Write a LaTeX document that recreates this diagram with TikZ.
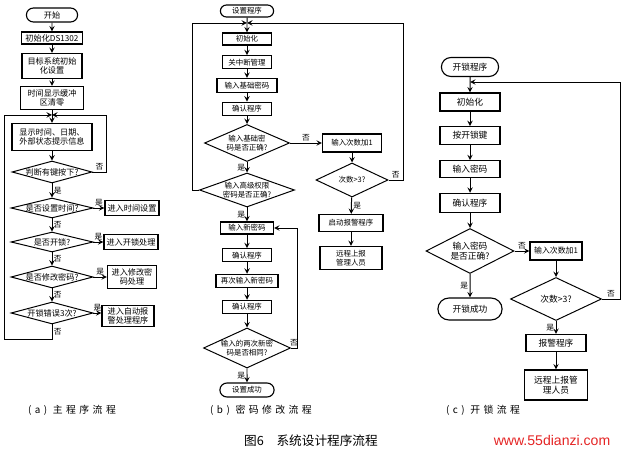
\documentclass[tikz,border=0pt]{standalone}
\usepackage{fontspec}
\setmainfont{Noto Sans CJK SC}
\newfontfamily\capfont[LetterSpace=35]{Noto Sans CJK SC}
\newfontfamily\webfont{Liberation Sans}
\usepackage{xcolor}
\usepackage{tikz}
\usetikzlibrary{shapes.geometric,shapes.misc}
\definecolor{webred}{RGB}{228,36,36}
\tikzstyle{start} = [rounded rectangle, draw=black, line width=0.8pt, text centered, inner sep=1pt]
\tikzstyle{process} = [rectangle, draw=black, line width=0.8pt, text centered, align=center, inner sep=1pt]
\tikzstyle{decision} = [diamond, draw=black, line width=0.7pt, text centered, align=center, inner sep=0pt]
\tikzstyle{arrow} = [line width=0.7pt,->,>=stealth]
\tikzstyle{yn} = [inner sep=1pt, font=\fontsize{5.5}{6}\selectfont]
\tikzset{wh/.style 2 args={minimum width=#1*0.025cm, minimum height=#2*0.025cm}}

\begin{document}
\begin{tikzpicture}[x=0.025cm,y=-0.025cm]
	\useasboundingbox (0,0) rectangle (622,452);

	% (a) main program
	\begin{scope}[every node/.append style={font=\fontsize{5.8}{6.8}\selectfont}]
	\node (start) [start, wh={54}{14}] at (52,15) {开始};
	\node (init) [process, wh={61}{12}] at (52,38) {初始化DS1302};
	\node (sys) [process, wh={60}{25}] at (52,66) {目标系统初始\\化设置};
	\node (clr) [process, wh={63}{23}] at (52,98) {时间显示缓冲\\区清零};
	\coordinate (loopa) at (52,115);
	\node (show) [process, wh={80}{27}] at (52,137) {显示时间、日期、\\外部状态提示信息};
	\node (key) [decision, wh={80}{22}, aspect=3.6, inner xsep=-3pt] at (52,172) {判断有键按下?};
	\node (settime) [decision, wh={82}{20}, aspect=4.1, inner xsep=-3pt] at (52,208) {是否设置时间?};
	\node (gotime) [process, wh={54}{15}] at (132,208) {进入时间设置};
	\node (unlock) [decision, wh={82}{20}, aspect=4.1] at (52,242) {是否开锁?};
	\node (gounlock) [process, wh={54}{15}] at (131,242) {进入开锁处理};
	\node (chpw) [decision, wh={82}{22}, aspect=3.7, inner xsep=-3pt] at (52,277) {是否修改密码?};
	\node (gochpw) [process, wh={49}{23}] at (132,277) {进入修改密\\码处理};
	\node (err) [decision, wh={82}{22}, aspect=3.7, inner xsep=-3pt] at (52,313) {开锁错误3次?};
	\node (goalarm) [process, wh={52}{21}] at (128,316) {进入自动报\\警处理程序};
	\coordinate (backa) at (4,339);

	\draw [arrow] (start) -- (init);
	\draw [arrow] (init) -- (sys);
	\draw [arrow] (sys) -- (clr);
	\draw [arrow] (clr) -- (show);
	\draw [arrow] (show) -- (key);
	\draw [arrow] (key.east) -- node[above,yn]{否} ++(14,0) |- (loopa);
	\draw [arrow] (key) -- node[right,yn]{是} (settime);
	\draw [arrow] (settime) -- node[above,yn]{是} (gotime);
	\draw [arrow] (settime) -- node[right,yn]{否} (unlock);
	\draw [arrow] (unlock) -- node[above,yn]{是} (gounlock);
	\draw [arrow] (unlock) -- node[right,yn]{否} (chpw);
	\draw [arrow] (chpw) -- node[above,yn]{是} (gochpw);
	\draw [arrow] (chpw) -- node[right,yn]{否} (err);
	\draw [arrow] (err.east) -- node[above,yn]{是} (err.east -| goalarm.west);
	\draw [arrow] (err.south) |- node[pos=0.25,right,yn]{否} (backa) |- (loopa);
	\end{scope}

	% (b) change password
	\begin{scope}[every node/.append style={font=\fontsize{5.3}{6.3}\selectfont}, node distance=0.58cm]
	\node (setprog) [start, wh={56}{12}] at (247,11) {设置程序};
	\coordinate (loopb) at (247,23);
	\node (binit) [process, wh={49}{12}] at (247,39) {初始化};
	\node (bclose) [process, wh={49}{13}, below of=binit] {关中断管理};
	\node (bbase) [process, wh={60}{14}, below of=bclose] {输入基础密码};
	\node (bok) [process, wh={49}{13}, below of=bbase] {确认程序};
	\node (bright) [decision, wh={85}{37}, aspect=2.3] at (247,143) {输入基础密\\码是否正确?};
	\node (bhigh) [decision, wh={95}{34}, aspect=2.8] at (247,190) {输入高级权限\\密码是否正确?};
	\node (bnew) [process, wh={53}{12}] at (247,228) {输入新密码};
	\node (bok2) [process, wh={49}{13}, below of=bnew, node distance=0.68cm] {确认程序};
	\node (bagain) [process, wh={62}{13}, below of=bok2, node distance=0.64cm] {再次输入新密码};
	\node (bok3) [process, wh={49}{13}, below of=bagain, node distance=0.65cm] {确认程序};
	\node (bsame) [decision, wh={87}{40}, aspect=2.2] at (247,348) {输入的两次新密\\码是否相同?};
	\node (bdone) [start, wh={57}{14}] at (247,390) {设置成功};
	\node (bcount) [process, wh={59}{18}] at (352,143) {输入次数加1};
	\node (bthree) [decision, wh={72}{34}, aspect=2.1] at (352,180) {次数>3?};
	\node (balarm) [process, wh={64}{17}] at (351,223) {启动报警程序};
	\node (breport) [process, wh={62}{23}] at (351,258) {远程上报\\管理人员};
	\coordinate (leftb) at (192,23);
	\coordinate (rightb) at (403,23);
	\coordinate (newb) at (297,228);

	\draw [arrow] (setprog) -- (binit);
	\draw [arrow] (binit) -- (bclose);
	\draw [arrow] (bclose) -- (bbase);
	\draw [arrow] (bbase) -- (bok);
	\draw [arrow] (bok) -- (bright);
	\draw [arrow] (bright) -- node[above,yn]{否} (bcount);
	\draw [arrow] (bright) -- node[left,yn]{是} (bhigh);
	\draw [arrow] (bhigh.west) -| (leftb) -- (loopb);
	\draw [arrow] (bhigh) -- node[left,yn]{是} (bnew);
	\draw [arrow] (bnew) -- (bok2);
	\draw [arrow] (bok2) -- (bagain);
	\draw [arrow] (bagain) -- (bok3);
	\draw [arrow] (bok3) -- (bsame);
	\draw [arrow] (bsame.east) -| node[pos=0.25,above,yn]{否} (newb) -- (bnew.east);
	\draw [arrow] (bsame) -- node[left,yn]{是} (bdone);
	\draw [arrow] (bcount) -- (bthree);
	\draw [arrow] (bthree.east) -| node[pos=0.25,above,yn]{否} (rightb) -- (loopb);
	\draw [arrow] (bthree) -- node[right,yn]{是} (balarm);
	\draw [arrow] (balarm) -- (breport);
	\end{scope}

	% (c) unlock
	\begin{scope}[every node/.append style={font=\fontsize{6.2}{7.4}\selectfont}, node distance=0.84cm]
	\node (lockprog) [start, wh={60}{19}] at (470,67) {开锁程序};
	\coordinate (loopc) at (470,82);
	\node (cinit) [process, wh={60}{18}] at (470,102) {初始化};
	\node (ckey) [process, wh={60}{18}, below of=cinit] {按开锁键};
	\node (cpw) [process, wh={60}{17}, below of=ckey] {输入密码};
	\node (cok) [process, wh={60}{19}, below of=cpw] {确认程序};
	\node (cright) [decision, wh={88}{45}, aspect=1.96] at (470,251) {输入密码\\是否正确?};
	\node (copen) [start, wh={67}{22}] at (470,309) {开锁成功};
	\node (ccount) [process, wh={52}{18}, font=\fontsize{5.6}{6.6}\selectfont] at (556,251) {输入次数加1};
	\node (cthree) [decision, wh={91}{43}, aspect=2.1] at (556,299) {次数>3?};
	\node (calarm) [process, wh={60}{17}] at (556,343) {报警程序};
	\node (creport) [process, wh={63}{30}] at (556,385) {远程上报管\\理人员};
	\coordinate (rightc) at (620,82);

	\draw [arrow] (lockprog) -- (cinit);
	\draw [arrow] (cinit) -- (ckey);
	\draw [arrow] (ckey) -- (cpw);
	\draw [arrow] (cpw) -- (cok);
	\draw [arrow] (cok) -- (cright);
	\draw [arrow] (cright) -- node[above,yn]{否} (ccount);
	\draw [arrow] (cright) -- node[left,yn]{是} (copen);
	\draw [arrow] (ccount) -- (cthree);
	\draw [arrow] (cthree.east) -| node[pos=0.25,above,yn]{否} (rightc) -- (loopc);
	\draw [arrow] (cthree) -- node[left,yn]{是} (calarm);
	\draw [arrow] (calarm) -- (creport);
	\end{scope}

	% captions
	\node (capa) [font=\capfont\fontsize{7}{8}\selectfont] at (72,410) {(a) 主程序流程};
	\node (capb) [font=\capfont\fontsize{7}{8}\selectfont] at (261,410) {(b) 密码修改流程};
	\node (capc) [font=\capfont\fontsize{7}{8}\selectfont] at (483,410) {(c) 开锁流程};
	\node (title) [font=\fontsize{9}{10}\selectfont] at (311,441) {图6\quad 系统设计程序流程};
	\node (web) [font=\webfont\fontsize{10}{12}\selectfont, text=webred] at (552,440) {www.55dianzi.com};

\end{tikzpicture}
\end{document}
